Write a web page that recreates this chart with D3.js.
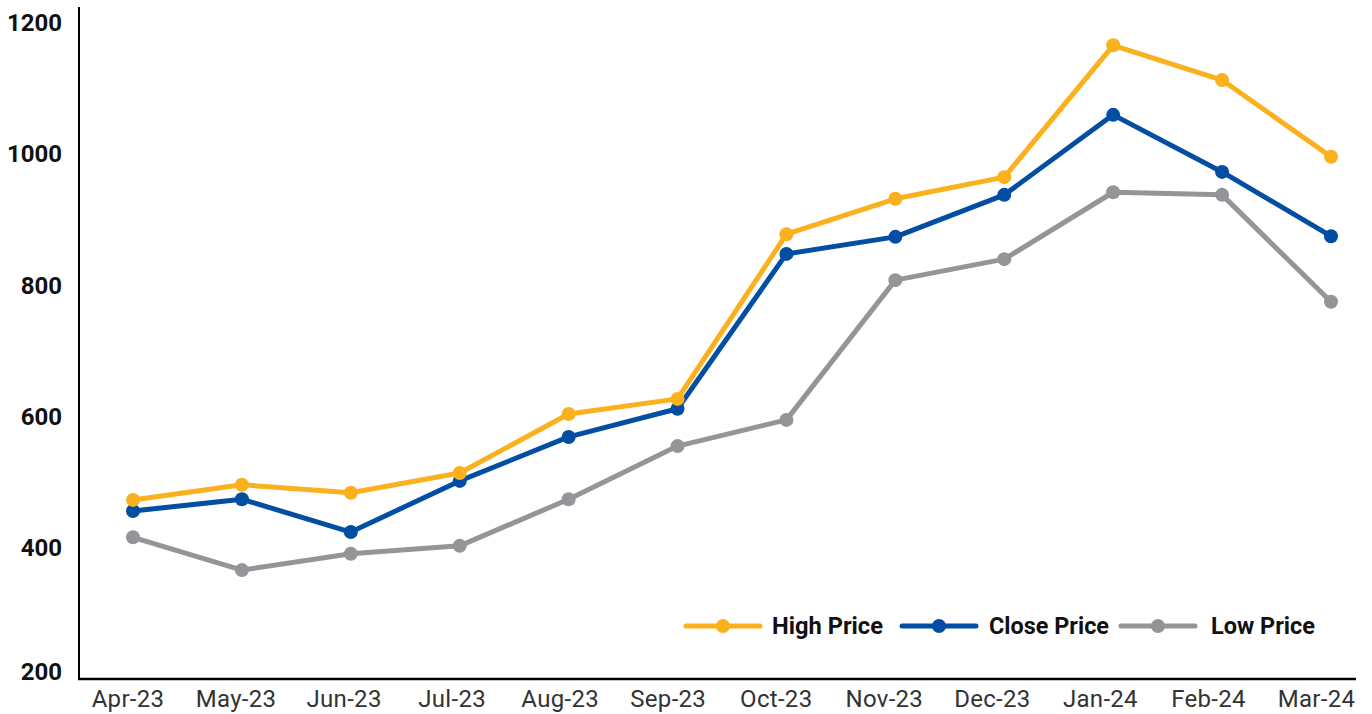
<!DOCTYPE html>
<html>
<head>
<meta charset="utf-8">
<script src="https://cdn.jsdelivr.net/npm/d3@7"></script>
<style>
  html, body { margin: 0; padding: 0; background: #fff; }
  svg { display: block; }
</style>
</head>
<body>
<svg id="chart" width="1372" height="714"></svg>
<script>
const months = ["Apr-23","May-23","Jun-23","Jul-23","Aug-23","Sep-23","Oct-23","Nov-23","Dec-23","Jan-24","Feb-24","Mar-24"];
const highPrice  = [473, 496, 484, 514, 604, 627, 878, 932, 965, 1166, 1113, 996];
const closePrice = [456, 474, 424, 502, 569, 612, 848, 874, 938, 1060, 973, 875];
const lowPrice   = [416, 366, 391, 403, 474, 555, 595, 808, 840, 942, 938, 775];
const yTicks = [200, 400, 600, 800, 1000, 1200];
const seriesNames = ["High Price", "Close Price", "Low Price"];
const seriesColors = ["#FBB01D", "#034EA2", "#939598"];

const series = [highPrice, closePrice, lowPrice].map((vals, i) => ({
  name: seriesNames[i], color: seriesColors[i], values: vals
}));

const svg = d3.select("#chart");
const x = d3.scalePoint().domain(months).range([133, 1331]);
const xLabel = d3.scalePoint().domain(months).range([127.5, 1316]);
const y = d3.scaleLinear().domain([200, 1200]).range([679, 23]);

// axes lines
svg.append("line").attr("x1", 79).attr("x2", 79).attr("y1", 7).attr("y2", 679)
  .attr("stroke", "#000").attr("stroke-width", 2);
svg.append("line").attr("x1", 78).attr("x2", 1356).attr("y1", 679).attr("y2", 679)
  .attr("stroke", "#000").attr("stroke-width", 2.5);

// y labels
const yAxis = d3.axisLeft(y).tickValues(yTicks).tickSize(0).tickFormat(d3.format("d"));
const gy = svg.append("g").attr("transform", "translate(62,0)").call(yAxis);
gy.select(".domain").remove();
gy.selectAll("text")
  .attr("x", 0)
  .attr("dy", d => d === 200 ? "0em" : "0.32em")
  .attr("font-family", "Roboto, sans-serif")
  .attr("font-weight", "bold")
  .attr("font-size", 24)
  .attr("fill", "#111");

// x labels
const xAxis = d3.axisBottom(xLabel).tickSize(0);
const gx = svg.append("g").attr("transform", "translate(0,690)").call(xAxis);
gx.select(".domain").remove();
gx.selectAll("text")
  .attr("y", 0)
  .attr("dy", "0.71em")
  .attr("font-family", "Roboto, sans-serif")
  .attr("font-size", 24)
  .attr("letter-spacing", "0.3px")
  .attr("fill", "#333");

// lines
const line = d3.line().x((d, i) => x(months[i])).y(d => y(d));
const draw = [series[2], series[1], series[0]];
draw.forEach(s => {
  svg.append("path").datum(s.values).attr("d", line)
    .attr("fill", "none").attr("stroke", s.color).attr("stroke-width", 5)
    .attr("stroke-linejoin", "round");
  svg.append("g").selectAll("circle").data(s.values).join("circle")
    .attr("cx", (d, i) => x(months[i])).attr("cy", d => y(d)).attr("r", 7)
    .attr("fill", s.color);
});

// legend
const legendItems = [
  { x0: 686, text: 772, w: 111 },
  { x0: 902, text: 989, w: 120 },
  { x0: 1121, text: 1211, w: 104 }
];
const ly = 626;
series.forEach((s, i) => {
  const L = legendItems[i];
  const g = svg.append("g");
  g.append("line").attr("x1", L.x0).attr("x2", L.x0 + 74).attr("y1", ly).attr("y2", ly)
    .attr("stroke", s.color).attr("stroke-width", 5).attr("stroke-linecap", "round");
  g.append("circle").attr("cx", L.x0 + 37).attr("cy", ly).attr("r", 7).attr("fill", s.color);
  g.append("text").attr("x", L.text).attr("y", ly + 8)
    .attr("font-family", "Roboto, sans-serif").attr("font-weight", "bold")
    .attr("font-size", 23).attr("fill", "#111")
    .attr("textLength", L.w).attr("lengthAdjust", "spacingAndGlyphs")
    .text(s.name);
});
</script>
</body>
</html>
